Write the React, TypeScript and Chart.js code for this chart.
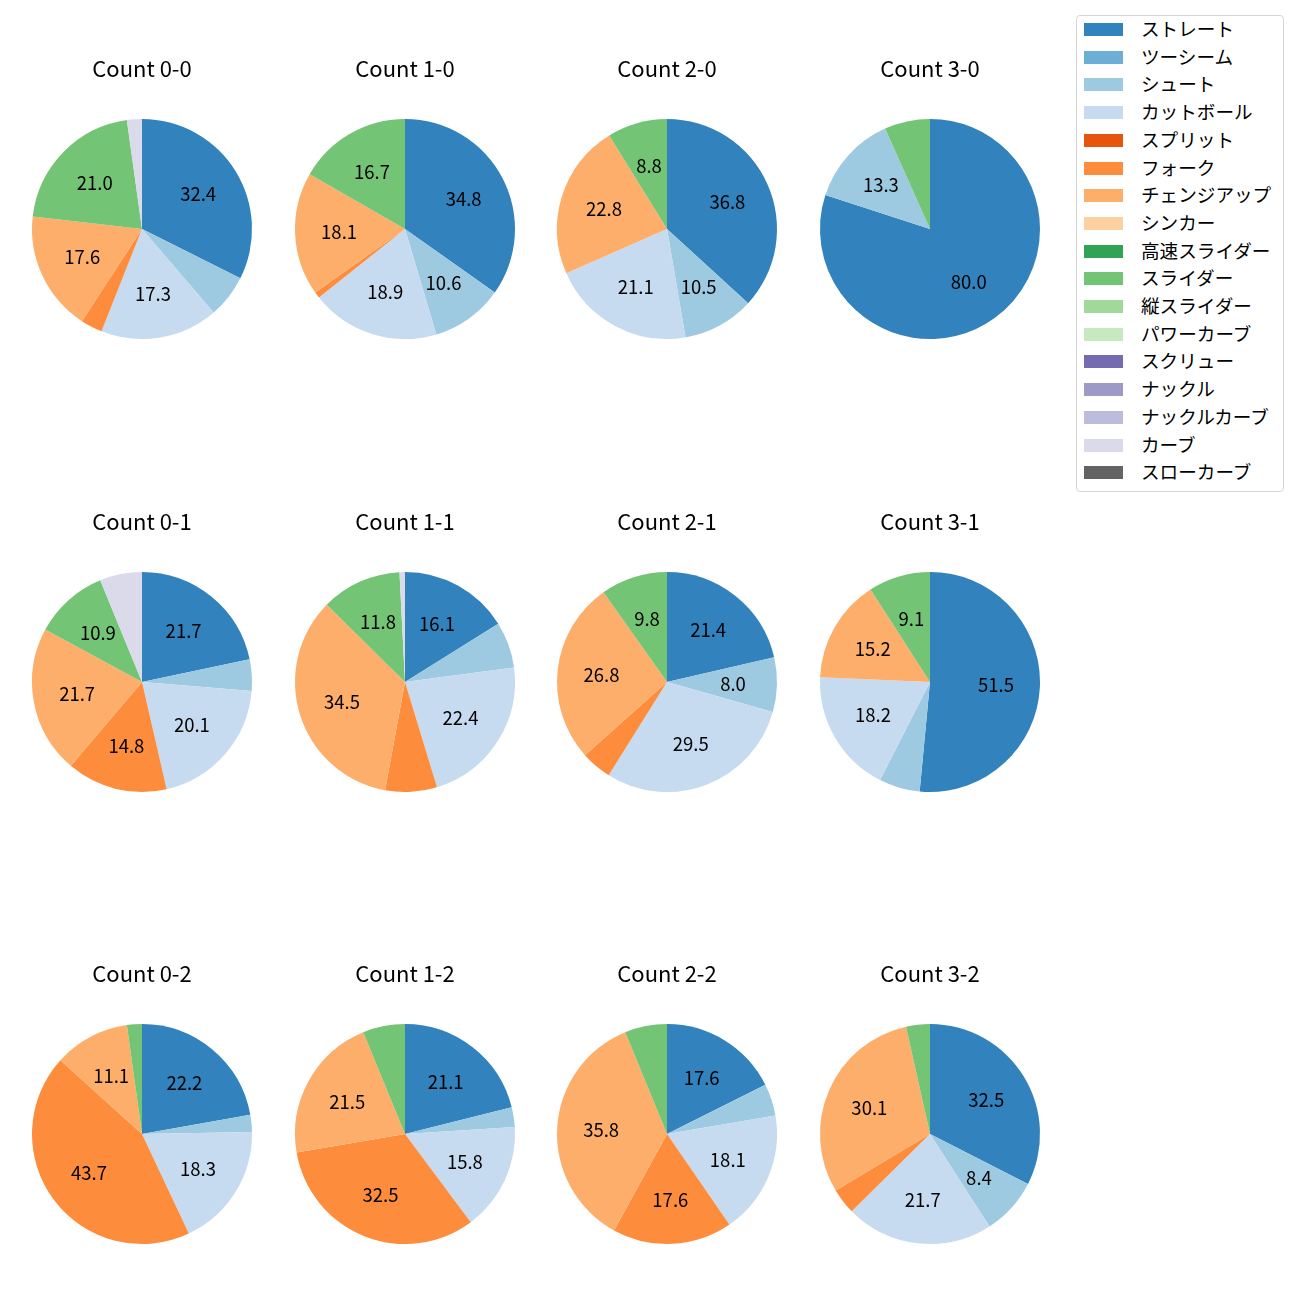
import React, { useEffect, useRef } from "react";
import { Chart, registerables } from "chart.js";

Chart.register(...registerables);

const FONT = "'Noto Sans CJK JP', 'Noto Sans', sans-serif";

const pitchTypes = [
  "ストレート", "ツーシーム", "シュート", "カットボール", "スプリット", "フォーク",
  "チェンジアップ", "シンカー", "高速スライダー", "スライダー", "縦スライダー",
  "パワーカーブ", "スクリュー", "ナックル", "ナックルカーブ", "カーブ", "スローカーブ",
];

const pitchColors = [
  "#3182bd", "#6baed6", "#9ecae1", "#c6dbef", "#e6550d", "#fd8d3c",
  "#fdae6b", "#fdd0a2", "#31a354", "#74c476", "#a1d99b", "#c7e9c0",
  "#756bb1", "#9e9ac8", "#bcbddc", "#dadaeb", "#636363",
];

// values per count, in pitchTypes order
const count00 = [32.4, 0, 6.3, 17.3, 0, 3.2, 17.6, 0, 0, 21.0, 0, 0, 0, 0, 0, 2.2, 0];
const count10 = [34.8, 0, 10.6, 18.9, 0, 0.9, 18.1, 0, 0, 16.7, 0, 0, 0, 0, 0, 0, 0];
const count20 = [36.8, 0, 10.5, 21.1, 0, 0, 22.8, 0, 0, 8.8, 0, 0, 0, 0, 0, 0, 0];
const count30 = [80.0, 0, 13.3, 0, 0, 0, 0, 0, 0, 6.7, 0, 0, 0, 0, 0, 0, 0];
const count01 = [21.7, 0, 4.6, 20.1, 0, 14.8, 21.7, 0, 0, 10.9, 0, 0, 0, 0, 0, 6.2, 0];
const count11 = [16.1, 0, 6.8, 22.4, 0, 7.6, 34.5, 0, 0, 11.8, 0, 0, 0, 0, 0, 0.8, 0];
const count21 = [21.4, 0, 8.0, 29.5, 0, 4.5, 26.8, 0, 0, 9.8, 0, 0, 0, 0, 0, 0, 0];
const count31 = [51.5, 0, 6.0, 18.2, 0, 0, 15.2, 0, 0, 9.1, 0, 0, 0, 0, 0, 0, 0];
const count02 = [22.2, 0, 2.5, 18.3, 0, 43.7, 11.1, 0, 0, 2.2, 0, 0, 0, 0, 0, 0, 0];
const count12 = [21.1, 0, 2.9, 15.8, 0, 32.5, 21.5, 0, 0, 6.2, 0, 0, 0, 0, 0, 0, 0];
const count22 = [17.6, 0, 4.7, 18.1, 0, 17.6, 35.8, 0, 0, 6.2, 0, 0, 0, 0, 0, 0, 0];
const count32 = [32.5, 0, 8.4, 21.7, 0, 3.8, 30.1, 0, 0, 3.5, 0, 0, 0, 0, 0, 0, 0];

const countTitles = [
  "Count 0-0", "Count 1-0", "Count 2-0", "Count 3-0",
  "Count 0-1", "Count 1-1", "Count 2-1", "Count 3-1",
  "Count 0-2", "Count 1-2", "Count 2-2", "Count 3-2",
];
const countValues = [
  count00, count10, count20, count30,
  count01, count11, count21, count31,
  count02, count12, count22, count32,
];

const colCenters = [141.5, 404.5, 667, 930];
const rowCenters = [229, 681.5, 1134];
const RADIUS = 110;
const TITLE_OFFSET = 160;
const LABEL_MIN = 8;

const CW = 260;
const CH = 360;

const pieLabelPlugin = {
  id: "pieLabels",
  afterDatasetsDraw(chart: any) {
    const ctx = chart.ctx;
    const meta = chart.getDatasetMeta(0);
    const data = chart.data.datasets[0].data as number[];
    const total = data.reduce((a, b) => a + b, 0);
    ctx.save();
    ctx.fillStyle = "#000";
    ctx.font = `18.5px ${FONT}`;
    ctx.textAlign = "center";
    ctx.textBaseline = "middle";
    meta.data.forEach((arc: any, i: number) => {
      const pct = (data[i] / total) * 100;
      if (pct < LABEL_MIN) return;
      const mid = (arc.startAngle + arc.endAngle) / 2;
      const r = arc.outerRadius * 0.6;
      ctx.fillText(pct.toFixed(1), arc.x + Math.cos(mid) * r, arc.y + Math.sin(mid) * r);
    });
    const title = chart.options.plugins.pieTitle?.text;
    if (title) {
      const a = meta.data[0];
      ctx.font = `22px ${FONT}`;
      ctx.fillText(title, a.x, a.y - TITLE_OFFSET);
    }
    ctx.restore();
  },
};

function Pie({ title, values, cx, cy }: { title: string; values: number[]; cx: number; cy: number }) {
  const ref = useRef<HTMLCanvasElement>(null);
  useEffect(() => {
    if (!ref.current) return;
    const chart = new Chart(ref.current, {
      type: "pie",
      data: {
        labels: pitchTypes,
        datasets: [
          {
            data: values,
            backgroundColor: pitchColors,
            borderWidth: 0,
            hoverOffset: 0,
            offset: 0,
          },
        ],
      },
      options: {
        responsive: false,
        animation: false,
        events: [],
        layout: {
          padding: {
            left: CW / 2 - RADIUS,
            right: CW / 2 - RADIUS,
            top: CH / 2 - RADIUS,
            bottom: CH / 2 - RADIUS,
          },
        },
        plugins: {
          legend: { display: false },
          tooltip: { enabled: false },
          title: { display: false },
          // @ts-ignore
          pieTitle: { text: title },
        },
      } as any,
      plugins: [pieLabelPlugin],
    });
    return () => chart.destroy();
  }, [title, values]);
  return (
    <canvas
      ref={ref}
      width={CW}
      height={CH}
      style={{ position: "absolute", left: cx - CW / 2, top: cy - CH / 2, width: CW, height: CH }}
    />
  );
}

export default function App() {
  return (
    <div style={{ position: "absolute", left: 0, top: 0, width: 1300, height: 1300, background: "#fff", fontFamily: FONT }}>
      {countTitles.map((t, i) => (
        <Pie key={t} title={t} values={countValues[i]} cx={colCenters[i % 4]} cy={rowCenters[Math.floor(i / 4)]} />
      ))}
      <div
        style={{
          position: "absolute",
          left: 1076,
          top: 15,
          width: 208,
          height: 477,
          border: "1px solid #d5d5d5",
          borderRadius: 4,
          background: "#fff",
          boxSizing: "border-box",
        }}
      >
        {pitchTypes.map((p, i) => (
          <div key={p} style={{ position: "absolute", left: 0, top: 13.5 + 27.7 * i - 12, height: 24, width: 206 }}>
            <div
              style={{
                position: "absolute",
                left: 7,
                top: 5.5,
                width: 39,
                height: 13,
                background: pitchColors[i],
              }}
            />
            <div
              style={{
                position: "absolute",
                left: 64,
                top: -1.5,
                height: 24,
                lineHeight: "24px",
                fontSize: 18.6,
                color: "#000",
                whiteSpace: "nowrap",
              }}
            >
              {p}
            </div>
          </div>
        ))}
      </div>
    </div>
  );
}
